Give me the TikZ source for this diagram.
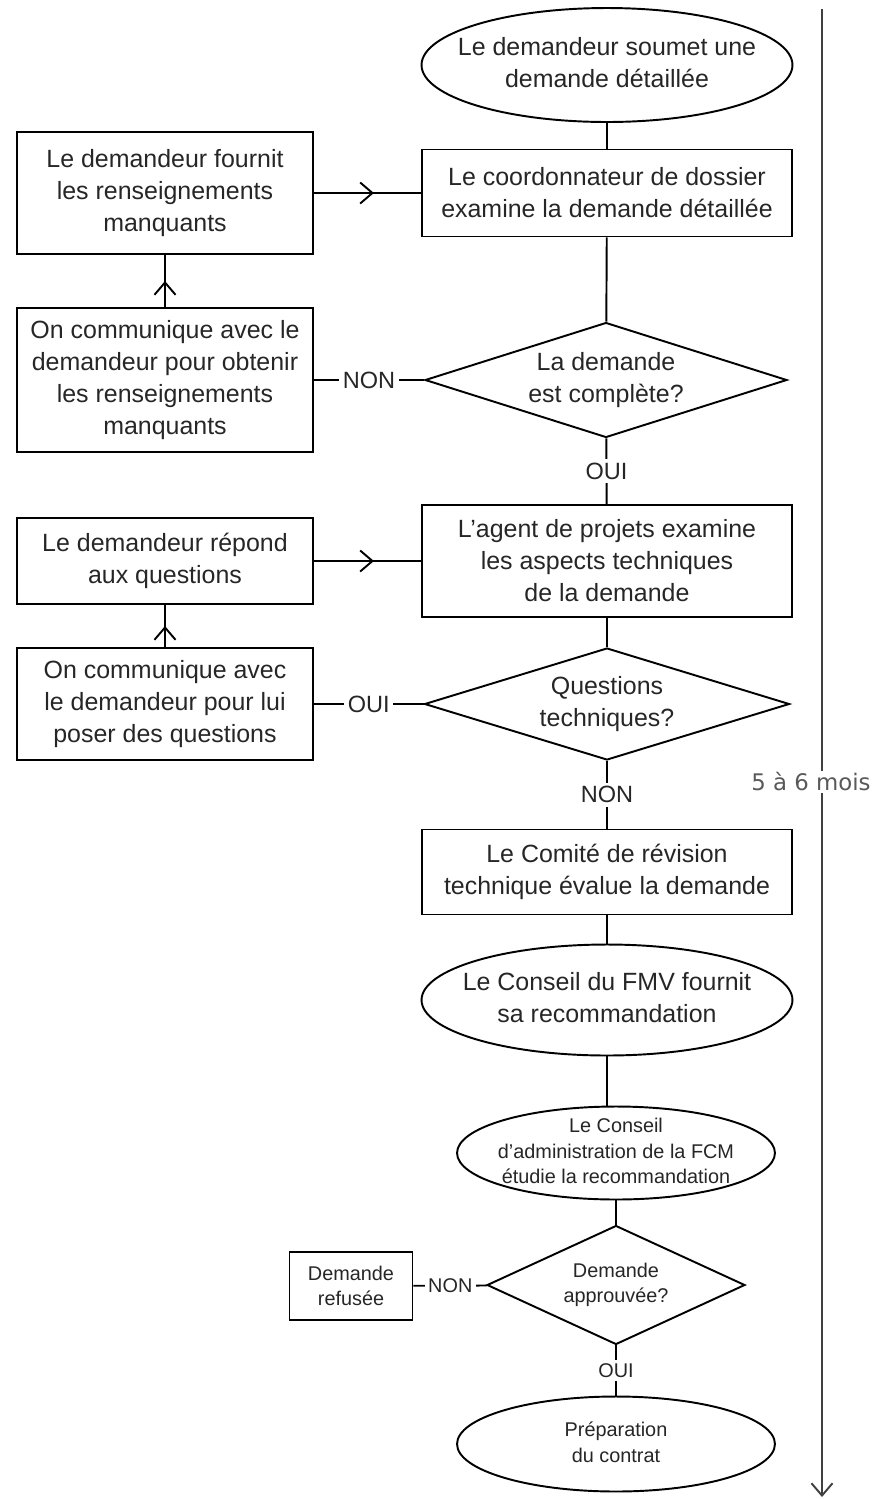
\documentclass[tikz,border=0pt]{standalone}
\usepackage{fontspec}
\setmainfont{Liberation Sans}
\newfontfamily\timefont{DejaVu Sans}
\usetikzlibrary{shapes.geometric,arrows.meta,decorations.markings}

% text of an oval, kept out of the shape's size
\newcommand{\ovaltext}[1]{\makebox[0pt][c]{\smash{\raisebox{-0.25em}{\begin{tabular}{@{}c@{}}#1\end{tabular}}}}}

\begin{document}
\begin{tikzpicture}[x=0.02cm,y=-0.02cm,
  every node/.style={text=black!85},
  bigtext/.style={font=\fontsize{14.2}{18.2}\selectfont,align=center},
  smalltext/.style={font=\fontsize{11.3}{14.6}\selectfont,align=center},
  stepbox/.style={draw,rectangle,line width=1.1pt,inner sep=0pt},
  oval/.style={draw,ellipse,line width=1.1pt,inner sep=0pt},
  choice/.style={draw,diamond,line width=1.1pt,inner sep=0pt},
  link/.style={line width=1.1pt},
  answer/.style={fill=white,inner sep=2pt,font=\fontsize{13.4}{16}\selectfont},
  midarrow/.style={postaction={decorate},decoration={markings,
    mark=at position #1 with {\arrow{Straight Barb[length=7pt,width=12pt]}}}},
  midarrow/.default=0.56
]
 \useasboundingbox (0,0) rectangle (875,1499);

    % Main column
    \node[oval,bigtext,minimum width=7.42cm,minimum height=2.28cm] (submit) at (607,65)
        {\ovaltext{Le demandeur soumet une\\demande détaillée}};
    \node[stepbox,bigtext,minimum width=7.4cm,minimum height=1.74cm] (review) at (607,193)
        {Le coordonnateur de dossier\\examine la demande détaillée};
    \node[choice,bigtext,shape aspect=3.15,minimum width=7.24cm,minimum height=2.3cm] (complete) at (606,380)
        {La demande\\est complète?};
    \node[stepbox,bigtext,minimum width=7.4cm,minimum height=2.24cm] (agent) at (607,561)
        {L'agent de projets examine\\les aspects techniques\\de la demande};
    \node[choice,bigtext,shape aspect=3.26,minimum width=7.3cm,minimum height=2.24cm] (questions) at (607,704)
        {Questions\\techniques?};
    \node[stepbox,bigtext,minimum width=7.4cm,minimum height=1.7cm] (committee) at (607,872)
        {Le Comité de révision\\technique évalue la demande};
    \node[oval,bigtext,minimum width=7.42cm,minimum height=2.22cm] (fmv) at (607,1000)
        {\ovaltext{Le Conseil du FMV fournit\\sa recommandation}};
    \node[oval,smalltext,minimum width=6.36cm,minimum height=1.86cm] (board) at (616,1153)
        {\ovaltext{Le Conseil\\d'administration de la FCM\\étudie la recommandation}};
    \node[choice,smalltext,shape aspect=2.17,minimum width=5.16cm,minimum height=2.38cm] (approve) at (616,1285)
        {Demande\\approuvée?};
    \node[oval,smalltext,minimum width=6.36cm,minimum height=1.9cm] (contract) at (616,1444)
        {\ovaltext{Préparation\\du contrat}};

    % Left column
    \node[stepbox,bigtext,minimum width=5.92cm,minimum height=2.44cm] (supply) at (165,193)
        {Le demandeur fournit\\les renseignements\\manquants};
    \node[stepbox,bigtext,minimum width=5.92cm,minimum height=2.88cm] (contact) at (165,380)
        {On communique avec le\\demandeur pour obtenir\\les renseignements\\manquants};
    \node[stepbox,bigtext,minimum width=5.92cm,minimum height=1.72cm] (reply) at (165,561)
        {Le demandeur répond\\aux questions};
    \node[stepbox,bigtext,minimum width=5.92cm,minimum height=2.24cm] (ask) at (165,704)
        {On communique avec\\le demandeur pour lui\\poser des questions};
    \node[stepbox,smalltext,minimum width=2.46cm,minimum height=1.36cm] (refused) at (351,1286)
        {Demande\\refusée};

    % Draw connectors
    \draw[link] (submit) -- (review);
    \draw[link] (review) -- (complete);
    \draw[link] (complete) -- node[answer] {OUI} (agent);
    \draw[link] (agent) -- (questions);
    \draw[link] (questions) -- node[answer] {NON} (committee);
    \draw[link] (committee) -- (fmv);
    \draw[link] (fmv.south) -- (fmv.south |- board.north);
    \draw[link] (board) -- (approve);
    \draw[link] (approve) -- node[answer,smalltext] {OUI} (contract);
    \draw[link] (approve) -- node[answer,smalltext] {NON} (refused);

    \draw[link] (complete) -- node[answer] {NON} (contact);
    \draw[link,midarrow=0.5] (contact) -- (supply);
    \draw[link,midarrow] (supply) -- (review);
    \draw[link] (questions) -- node[answer] {OUI} (ask);
    \draw[link,midarrow=0.5] (ask) -- (reply);
    \draw[link,midarrow] (reply) -- (agent);

    % Draw time line
    \coordinate (tstart) at (822,9);
    \coordinate (tend) at (822,1497);
    \draw[line width=1.1pt,black!75,-{Straight Barb[length=7pt,width=12pt]}] (tstart) -- (tend);
    \node[fill=white,inner sep=1pt,text=black!65,font=\timefont\fontsize{13}{15}\selectfont]
        (duration) at (811,782) {5 à 6 mois};

\end{tikzpicture}
\end{document}
